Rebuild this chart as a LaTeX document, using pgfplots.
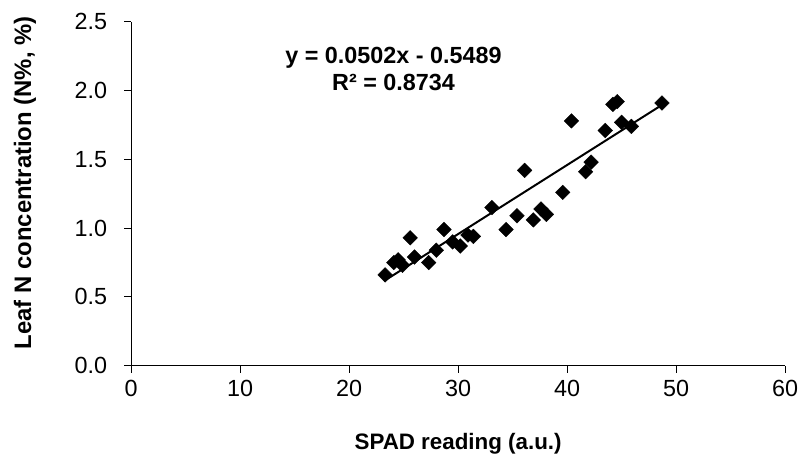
\documentclass[border=0pt]{standalone}
\usepackage{fontspec}
\setmainfont{Liberation Sans}
\usepackage{pgfplots}
\pgfplotsset{compat=1.18}
\begin{document}
\fontsize{21}{25}\selectfont
\begin{tikzpicture}
\begin{axis}[name=ax, scale only axis, width=658pt, height=346pt,
  xmin=0, xmax=60, ymin=0, ymax=2.5,
  xtick={0,10,20,30,40,50,60}, ytick={0,0.5,1.0,1.5,2.0,2.5},
  axis x line*=bottom, axis y line*=left,
  axis line style={line width=1pt,-},
  tick align=outside, major tick length=7pt,
  tick style={line width=1pt, black},
  yticklabel style={/pgf/number format/fixed,/pgf/number format/fixed zerofill,/pgf/number format/precision=1, xshift=-10pt},
  /pgf/number format/assume math mode=true,
  ticklabel style={font=\fontsize{23.5}{27}\selectfont},
  xlabel={\textbf{SPAD reading (a.u.)}},
  ylabel={\textbf{Leaf N concentration (N\%, \%)}},
  xlabel style={at={(axis description cs:0.5,0)}, anchor=base, yshift=-84pt, font=\fontsize{22.5}{25}\selectfont},
  ylabel style={at={(axis description cs:0,0.5)}, anchor=center, yshift=107pt, xshift=11pt, font=\fontsize{24}{25}\selectfont},
  clip=false]
\addplot[only marks, mark=square*, mark size=5.2pt, mark options={rotate=45, fill=black, draw=black}] coordinates {
(23.3,0.66) (24.1,0.75) (24.5,0.77) (24.9,0.73) (25.6,0.93) (26.0,0.79)
(27.3,0.75) (28.0,0.84) (28.7,0.99) (29.5,0.90) (30.2,0.87) (30.9,0.95)
(31.4,0.94) (33.1,1.15) (34.4,0.99) (35.4,1.09) (36.1,1.42) (36.9,1.06)
(37.6,1.14) (38.1,1.10) (39.6,1.26) (40.4,1.78) (41.7,1.41) (42.2,1.48)
(43.5,1.71) (44.2,1.90) (44.6,1.92) (45.0,1.77) (45.9,1.74) (48.7,1.91)
};
\addplot[black, line width=2pt] coordinates {(23.2,0.6157) (48.8,1.9009)};
\node[align=center, font=\fontsize{23.5}{27}\selectfont\bfseries] at (axis cs:24.07,2.157) {y = 0.0502x - 0.5489\\R² = 0.8734};
\end{axis}
\path (ax.south west) ++(-132pt,-88pt) rectangle ++(805pt,456pt);
\end{tikzpicture}
\end{document}
